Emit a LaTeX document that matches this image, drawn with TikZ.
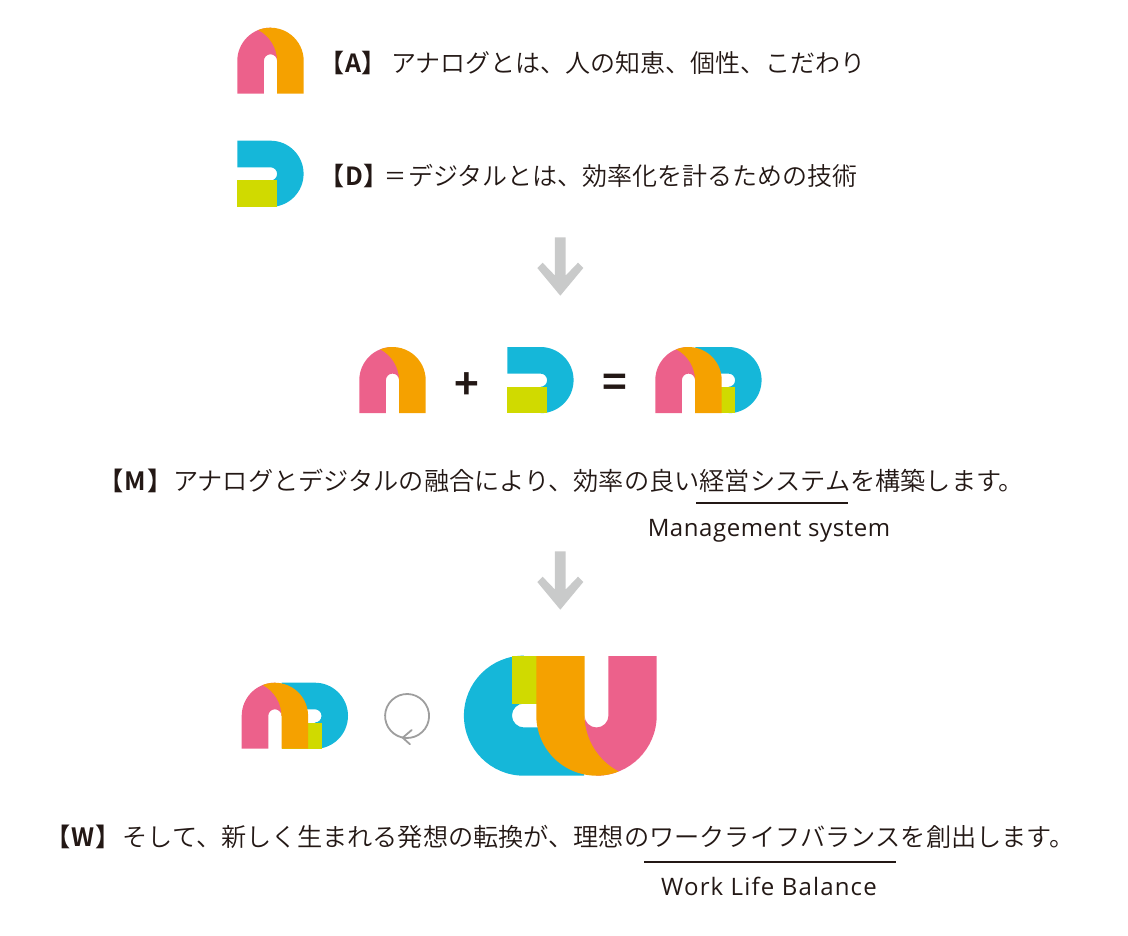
\documentclass[tikz,border=0pt]{standalone}
\usepackage{fontspec}
\usepackage{graphicx}
\setmainfont[BoldFont={Noto Sans CJK JP Bold}]{Noto Sans CJK JP DemiLight}
\newfontfamily\heavyfont{Noto Sans CJK JP Bold}
\newfontfamily\latinm[LetterSpace=2.3]{Open Sans}
\newfontfamily\latinw[LetterSpace=4.9]{Open Sans}
\definecolor{logopink}{HTML}{EC618B}
\definecolor{logoorange}{HTML}{F5A100}
\definecolor{logoblue}{HTML}{15B7D9}
\definecolor{logolime}{HTML}{D0DA00}
\definecolor{arrowgray}{HTML}{C9CACA}
\definecolor{ink}{HTML}{231815}
\tikzset{
  jp/.style={anchor=west,inner sep=0pt,text=ink,font=\fontsize{25.2}{30}\selectfont},
  jpsmall/.style={jp,font=\fontsize{25}{30}\selectfont},
  en/.style={anchor=center,inner sep=0pt,text=ink},
  sign/.style={text=ink,inner sep=0pt,font=\heavyfont\fontsize{42}{42}\selectfont},
  rulemark/.style={draw=ink,line width=2pt},
  bigarrow/.style={fill=arrowgray},
  loopline/.style={draw=black!38,line width=1.8pt,line cap=round,line join=round},
}
\newcommand{\logoA}{%
  \fill[logopink] (0,66)--(0,33.2) arc[start angle=180,end angle=270,radius=33.2] --(39.8,5)--(39.8,33.2) arc[start angle=360,end angle=180,radius=6.6]--(26.6,66)--cycle;
  \fill[logoorange] (39.8,66)--(39.8,33.2) .. controls (39.8,20) and (32,8) .. (20.93,2.35) arc[start angle=248.3,end angle=360,radius=33.2]--(66.4,66)--cycle;
}
\newcommand{\logoD}{%
  \fill[logoblue] (0,0)--(33.2,0) arc[start angle=270,end angle=450,radius=33.1]--(33.2,39.8) arc[start angle=90,end angle=-90,radius=6.6]--(0,26.6)--cycle;
  \fill[logolime] (0,39.8) rectangle (39.8,66);
}
\newcommand{\logoMD}{%
  \begin{scope}[shift={(40,0)}]\logoD\end{scope}\logoA
}
\newcommand{\downarrowmark}{%
  \fill[bigarrow] (-5.4,0)--(5.4,0)--(5.4,38.2)--(17.7,25.4)--(23,30.7)--(0,58.4)--(-23,30.7)--(-17.7,25.4)--(-5.4,38.2)--cycle;
}
\begin{document}
\begin{tikzpicture}[x=1pt,y=-1pt]
\useasboundingbox (0,0) rectangle (1128,936);
\begin{scope}[shift={(237.3,27.7)}]\logoA\end{scope}
\begin{scope}[shift={(237.3,140.7)}]\logoD\end{scope}
\begin{scope}[shift={(359.3,347)}]\logoA\end{scope}
\begin{scope}[shift={(507.3,347)}]\logoD\end{scope}
\begin{scope}[shift={(655.3,347)}]\logoMD\end{scope}
\begin{scope}[shift={(241.7,682.7)}]\logoMD\end{scope}
\begin{scope}[shift={(656.7,775.7)},rotate=180,scale=1.8135]\logoMD\end{scope}

\node[jpsmall] (ta) at (319,63) {\textbf{【\hspace{1pt}A】}\hspace{5pt}アナログとは、人の知恵、個性、こだわり};
\node[jpsmall] (td) at (319,176) {\textbf{【\hspace{1pt}D】}\hspace{-4pt}\scalebox{0.88}[1]{＝}\hspace{2pt}デジタルとは、効率化を計るための技術};
\node[jp] (tm) at (98,481) {\textbf{【\hspace{1pt}M\hspace{2pt}】}アナログとデジタルの融合により、効率の良い経営システムを構築します。};
\node[jp] (tw) at (45,837) {\textbf{【\hspace{1pt}W\hspace{1pt}】}\hspace{2pt}そして、新しく生まれる発想の転換が、理想のワークライフバランスを創出します。};
\node[sign] (plus) at (467,386) {+};
\node[sign] (equal) at (614.5,386) {=};
\node[en,font=\latinm\fontsize{24}{28}\selectfont] (ms) at (769,531) {Management system};
\node[en,font=\latinw\fontsize{24}{28}\selectfont] (wl) at (769,886) {Work Life Balance};
\coordinate (m1) at (696,503.4); \coordinate (m2) at (848,503.4);
\coordinate (w1) at (644,861.5); \coordinate (w2) at (896,861.5);
\draw[rulemark] (m1)--(m2);
\draw[rulemark] (w1)--(w2);

\begin{scope}[shift={(560.3,237.3)}]\downarrowmark\end{scope}
\begin{scope}[shift={(560.3,551.3)}]\downarrowmark\end{scope}

\draw[loopline] (391,731) arc[start angle=137,end angle=-263,radius=22];
\draw[loopline] (411.7,730)--(402.7,737.7)--(410,744.3);
\end{tikzpicture}
\end{document}
